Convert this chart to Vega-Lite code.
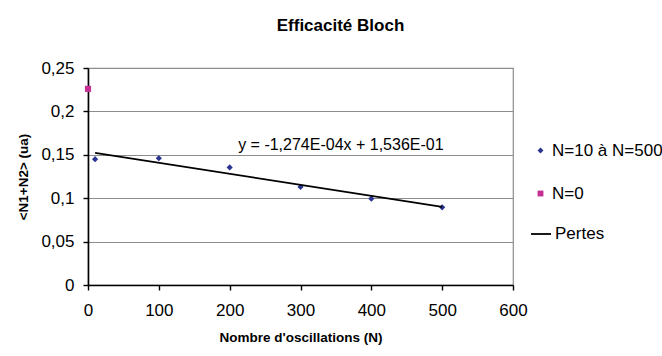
{
  "$schema": "https://vega.github.io/schema/vega-lite/v6.json",
  "width": 425,
  "height": 217,
  "autosize": "none",
  "padding": {"left": 88, "top": 68, "right": 149, "bottom": 71},
  "background": "white",
  "config": {
    "font": "Liberation Sans",
    "view": {"stroke": "#8c8c8c", "strokeWidth": 1.2}
  },
  "title": {
    "text": "Efficacité Bloch",
    "font": "Liberation Sans",
    "fontSize": 17,
    "fontWeight": "bold",
    "color": "black",
    "anchor": "middle",
    "frame": "group",
    "dx": 40,
    "offset": 24
  },
  "data": {
    "values": [
      {"N": 10, "v": 0.145, "serie": "N=10 à N=500"},
      {"N": 100, "v": 0.146, "serie": "N=10 à N=500"},
      {"N": 200, "v": 0.1355, "serie": "N=10 à N=500"},
      {"N": 300, "v": 0.113, "serie": "N=10 à N=500"},
      {"N": 400, "v": 0.0995, "serie": "N=10 à N=500"},
      {"N": 500, "v": 0.0895, "serie": "N=10 à N=500"},
      {"N": 0, "v": 0.226, "serie": "N=0"},
      {"N": 10, "v": 0.1523, "serie": "Pertes"},
      {"N": 500, "v": 0.0899, "serie": "Pertes"}
    ]
  },
  "encoding": {
    "x": {
      "field": "N",
      "type": "quantitative",
      "scale": {"domain": [0, 600], "nice": false, "zero": false},
      "axis": {
        "title": "Nombre d'oscillations (N)",
        "values": [0, 100, 200, 300, 400, 500, 600],
        "grid": false,
        "domainColor": "black",
        "domainWidth": 1.6,
        "tickColor": "black",
        "tickWidth": 1.4,
        "tickSize": 5,
        "labelFont": "Liberation Sans",
        "labelFontSize": 17,
        "labelColor": "black",
        "labelPadding": 12,
        "labelFlush": false,
        "titleFont": "Liberation Sans",
        "titleFontSize": 13.5,
        "titleFontWeight": "bold",
        "titleColor": "black",
        "titlePadding": 12
      }
    },
    "y": {
      "field": "v",
      "type": "quantitative",
      "scale": {"domain": [0, 0.25], "nice": false},
      "axis": {
        "title": "<N1+N2> (ua)",
        "values": [0, 0.05, 0.1, 0.15, 0.2, 0.25],
        "labelExpr": "replace(format(datum.value, '~g'), '.', ',')",
        "grid": true,
        "gridColor": "#8c8c8c",
        "gridWidth": 1.2,
        "domainColor": "black",
        "domainWidth": 1.6,
        "tickColor": "black",
        "tickWidth": 1.4,
        "tickSize": 5,
        "labelFont": "Liberation Sans",
        "labelFontSize": 17,
        "labelColor": "black",
        "labelPadding": 9,
        "labelFlush": false,
        "titleFont": "Liberation Sans",
        "titleFontSize": 13.5,
        "titleFontWeight": "bold",
        "titleColor": "black",
        "titlePadding": 10
      }
    }
  },
  "layer": [
    {
      "transform": [{"filter": "datum.serie !== 'Pertes'"}],
      "mark": {"type": "point", "filled": true, "size": 38, "opacity": 1},
      "encoding": {
        "color": {
          "field": "serie",
          "type": "nominal",
          "scale": {"domain": ["N=10 à N=500", "N=0"], "range": ["#2B3390", "#C42F94"]},
          "legend": {
            "title": null,
            "orient": "none",
            "legendX": 444,
            "legendY": 74,
            "symbolSize": 34,
            "symbolOpacity": 1,
            "labelFont": "Liberation Sans",
            "labelFontSize": 17,
            "labelColor": "black",
            "labelOffset": 3,
            "rowPadding": 25,
            "padding": 0
          }
        },
        "shape": {
          "field": "serie",
          "type": "nominal",
          "scale": {"domain": ["N=10 à N=500", "N=0"], "range": ["diamond", "square"]},
          "legend": {
            "title": null,
            "orient": "none",
            "legendX": 444,
            "legendY": 74,
            "symbolSize": 34,
            "symbolOpacity": 1,
            "labelFont": "Liberation Sans",
            "labelFontSize": 17,
            "labelColor": "black",
            "labelOffset": 3,
            "rowPadding": 25,
            "padding": 0
          }
        }
      }
    },
    {
      "transform": [{"filter": "datum.serie === 'Pertes'"}],
      "mark": {"type": "line", "strokeWidth": 1.8},
      "encoding": {
        "stroke": {
          "field": "serie",
          "type": "nominal",
          "scale": {"domain": ["Pertes"], "range": ["black"]},
          "legend": {
            "title": null,
            "orient": "none",
            "legendX": 442,
            "legendY": 155,
            "symbolType": "stroke",
            "symbolSize": 400,
            "symbolStrokeWidth": 1.8,
            "labelFont": "Liberation Sans",
            "labelFontSize": 17,
            "labelColor": "black",
            "labelOffset": 3,
            "padding": 0
          }
        }
      }
    },
    {
      "data": {"values": [{"N": 357, "v": 0.161, "label": "y = -1,274E-04x + 1,536E-01"}]},
      "mark": {"type": "text", "font": "Liberation Sans", "fontSize": 16, "color": "black", "align": "center", "baseline": "middle"},
      "encoding": {
        "text": {"field": "label"}
      }
    }
  ]
}
